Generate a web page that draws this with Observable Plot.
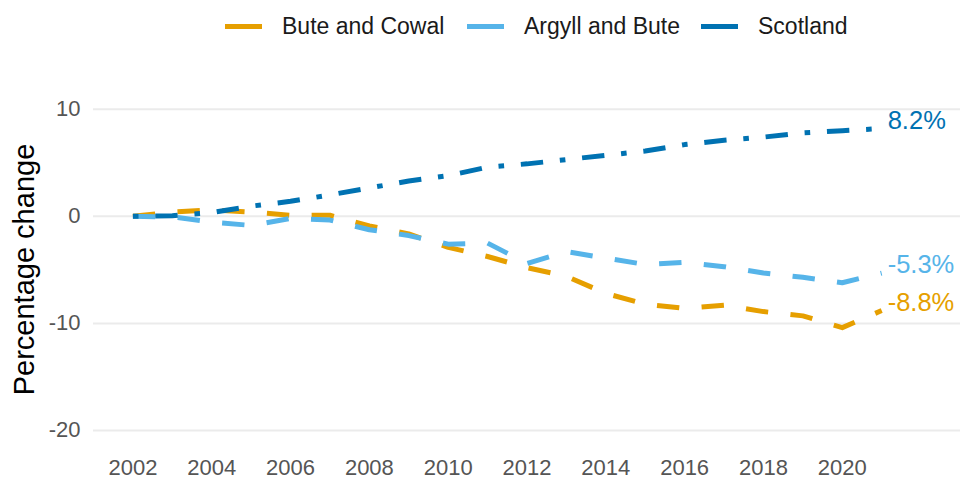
<!DOCTYPE html>
<html>
<head>
<meta charset="utf-8">
<script src="https://cdn.jsdelivr.net/npm/d3@7"></script>
<script src="https://cdn.jsdelivr.net/npm/@observablehq/plot@0.6"></script>
<style>
  html, body { margin: 0; padding: 0; background: #fff; }
  body { width: 960px; height: 480px; overflow: hidden; font-family: "Liberation Sans", Arial, sans-serif; }
  #legend { position: relative; height: 53px; }
  .item { position: absolute; top: 0; height: 53px; display: flex; align-items: center; }
  .sw { width: 37px; height: 5px; margin-right: 20px; }
  .lab { font-size: 23px; color: #1a1a1a; }
</style>
</head>
<body>
<div id="legend"></div>
<div id="chart"></div>
<script>
const years = [2002,2003,2004,2005,2006,2007,2008,2009,2010,2011,2012,2013,2014,2015,2016,2017,2018,2019,2020,2021];
const seriesNames = ["Bute and Cowal", "Argyll and Bute", "Scotland"];
const buteCowal = [0, 0.4, 0.6, 0.4, 0.1, 0.1, -0.9, -1.65, -2.9, -3.75, -4.8, -5.6, -7.2, -8.2, -8.6, -8.3, -8.9, -9.3, -10.4, -8.8];
const argyllBute = [0, -0.05, -0.55, -0.85, -0.2, -0.35, -1.25, -1.8, -2.6, -2.5, -4.4, -3.3, -3.9, -4.5, -4.3, -4.7, -5.3, -5.7, -6.2, -5.3];
const scotland = [0, 0.05, 0.35, 0.95, 1.4, 2.0, 2.65, 3.3, 3.8, 4.6, 4.9, 5.3, 5.7, 6.1, 6.7, 7.1, 7.4, 7.8, 8.0, 8.2];
const endLabels = ["-8.8%", "-5.3%", "8.2%"];
const yTicks = [-20, -10, 0, 10];
const xTicks = [2002,2004,2006,2008,2010,2012,2014,2016,2018,2020];
const yTitle = "Percentage change";
const colors = ["#E69F00", "#56B4E9", "#0072B2"];
const dashes = ["22.4,22.4", "22.4,22.4", "5.6,16.8,22.4,16.8"];

const valuesBySeries = [buteCowal, argyllBute, scotland];
const data = seriesNames.flatMap((s, i) => years.map((yr, j) => ({series: s, year: yr, value: valuesBySeries[i][j]})));
const ends = seriesNames.map((s, i) => ({series: s, year: years[years.length - 1], value: valuesBySeries[i][years.length - 1], label: endLabels[i]}));

// legend
const legend = document.getElementById("legend");
const lefts = [225, 467, 701];
seriesNames.forEach((s, i) => {
  const it = document.createElement("div");
  it.className = "item";
  it.style.left = lefts[i] + "px";
  it.innerHTML = `<div class="sw" style="background:${colors[i]}"></div><div class="lab">${s}</div>`;
  legend.appendChild(it);
});

const color = Plot.scale({color: {domain: seriesNames, range: colors}});

const marks = [
  Plot.ruleY(yTicks, {stroke: "#ebebeb", strokeWidth: 2}),
  ...seriesNames.map((s, i) => Plot.line(data.filter(d => d.series === s), {
    x: "year", y: "value", stroke: colors[i], strokeWidth: 5,
    strokeDasharray: dashes[i], strokeLinecap: "butt", strokeLinejoin: "round"
  })),
  Plot.text(ends, {
    x: "year", y: "value", text: "label", fill: d => color.apply(d.series),
    textAnchor: "start", lineAnchor: "bottom", dx: 6, fontSize: 25.5
  }),
  Plot.axisX({ticks: xTicks, tickFormat: d => String(d), tickSize: 0, tickPadding: 13, fontSize: 22, color: "#555", label: null}),
  Plot.axisY({ticks: yTicks, tickFormat: d => String(d), tickSize: 0, tickPadding: 13, fontSize: 22, color: "#555", label: null}),
  Plot.text([yTitle], {
    frameAnchor: "left", rotate: -90, dx: -80, dy: 5, fontSize: 29, fill: "#000",
    lineAnchor: "top", textAnchor: "middle"
  })
];

const chart = Plot.plot({
  width: 960,
  height: 427,
  marginLeft: 93,
  marginRight: 0,
  marginTop: 29,
  marginBottom: 34,
  style: {fontFamily: "'Liberation Sans', Arial, sans-serif", background: "#fff", overflow: "visible"},
  x: {domain: [2001, 2023]},
  y: {domain: [-21.5, 12.5]},
  marks
});
document.getElementById("chart").appendChild(chart);
</script>
</body>
</html>
